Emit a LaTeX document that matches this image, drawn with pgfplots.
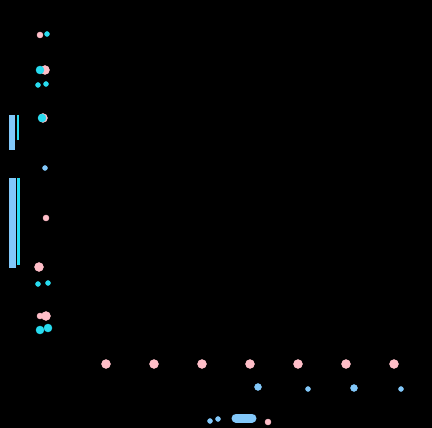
\documentclass[border=0pt]{standalone}
\usepackage{pgfplots}
\pgfplotsset{compat=1.18}
\definecolor{pk}{RGB}{255,190,200}
\definecolor{cy}{RGB}{40,220,240}
\definecolor{lb}{RGB}{130,200,250}
\begin{document}
\begin{tikzpicture}
\fill[black] (0,0) rectangle (432pt,428pt);
\begin{axis}[at={(0,0)},anchor=south west,width=432pt,height=428pt,scale only axis,
 xmin=0,xmax=432,ymin=0,ymax=428,y dir=reverse,hide axis,clip=false]
\addplot[only marks,mark=*,mark size=4.5pt,pk,draw=none] coordinates {(106,364)(154,364)(202,364)(250,364)(298,364)(346,364)(394,364)(39,267)(46,316)(45,70)(43,118)};
\addplot[only marks,mark=*,mark size=3pt,pk,draw=none] coordinates {(40,35)(46,218)(268,422)(40,316)};
\addplot[only marks,mark=*,mark size=4pt,cy,draw=none] coordinates {(40,70)(42,118)(40,330)(48,328)};
\addplot[only marks,mark=*,mark size=2.5pt,cy,draw=none] coordinates {(47,34)(38,85)(46,84)(38,284)(48,283)};
\addplot[only marks,mark=*,mark size=3.5pt,lb,draw=none] coordinates {(258,387)(354,388)};
\addplot[only marks,mark=*,mark size=2.5pt,lb,draw=none] coordinates {(45,168)(308,389)(401,389)(210,421)(218,419)};
\addplot[lb,line width=6pt] coordinates {(12,115)(12,150)};
\addplot[lb,line width=7pt] coordinates {(12,178)(12,268)};
\addplot[cy,line width=2pt] coordinates {(18,115)(18,140)};
\addplot[cy,line width=3pt] coordinates {(18,178)(18,265)};
\addplot[lb,line width=9pt,line cap=round] coordinates {(236,418)(252,418)};
\end{axis}
\end{tikzpicture}
\end{document}
